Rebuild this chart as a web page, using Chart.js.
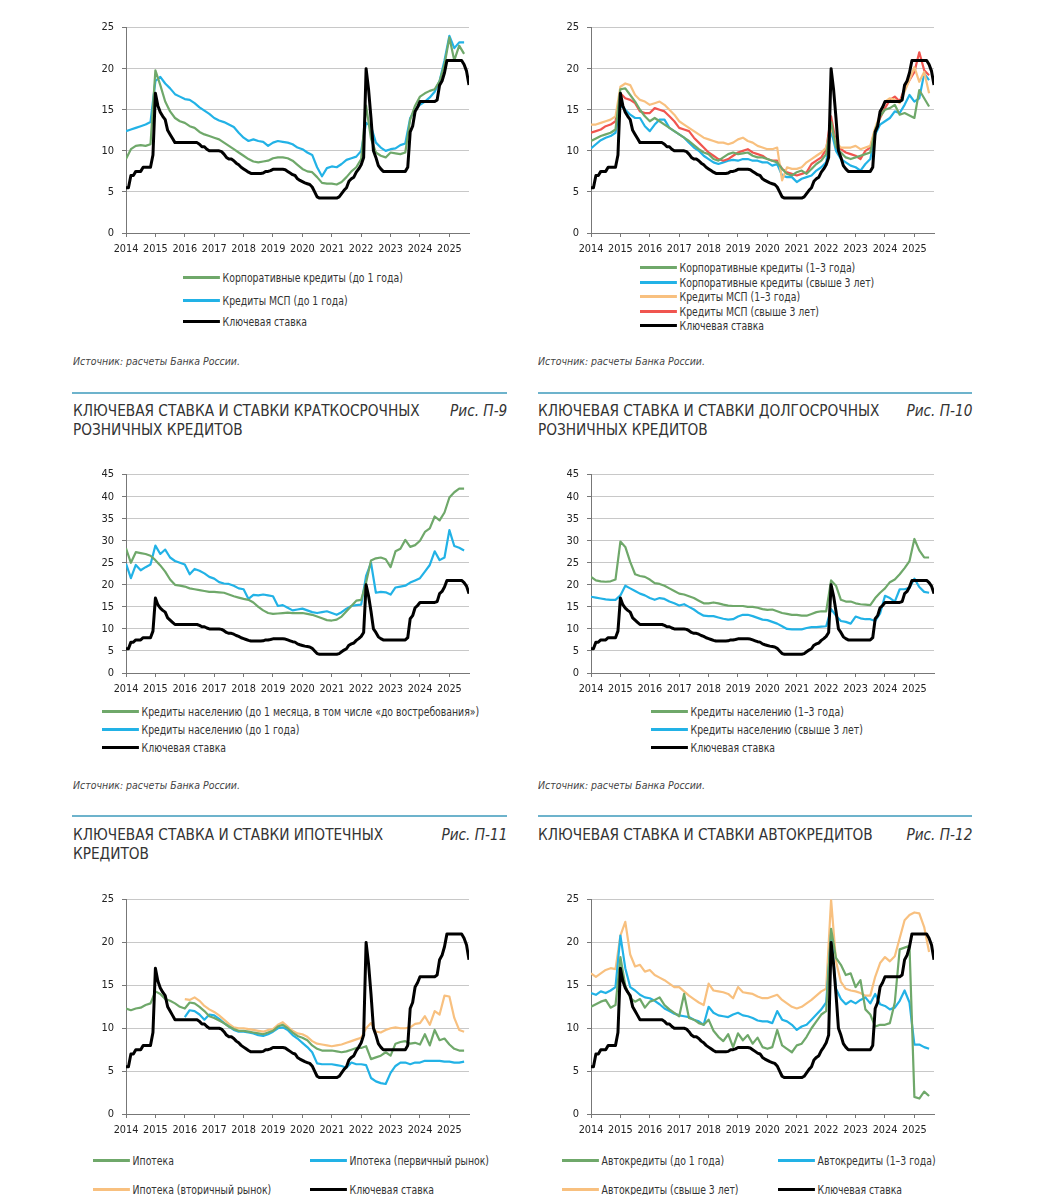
<!DOCTYPE html>
<html lang="ru">
<head>
<meta charset="utf-8">
<script src="https://cdn.jsdelivr.net/npm/chart.js@4.4.1/dist/chart.umd.min.js"></script>
<style>
body { margin: 0; background: #fff; }
#page { position: relative; width: 1060px; height: 1195px; overflow: hidden;
  font-family: 'DejaVu Sans Condensed', Roboto, sans-serif; color: #333; }
.t { position: absolute; white-space: nowrap; }
.title { font-size: 16px; line-height: 18.5px; color: #333; transform: scaleX(0.95); transform-origin: left top; }
.fig { font-size: 16px; line-height: 18.5px; font-style: italic; color: #333; transform: scaleX(0.95); transform-origin: right top; }
.src { font-size: 11px; line-height: 14px; font-style: italic; color: #444; transform: scaleX(0.95); transform-origin: left top; }
.rule { position: absolute; height: 1.5px; background: #6db3cc; }
.lg { position: absolute; font-size: 11.5px; line-height: 14px; white-space: nowrap; color: #333; transform: scaleX(0.9); transform-origin: left center; }
.lg i { display: inline-block; width: 41px; height: 3px; vertical-align: middle; margin-right: 3px; position: relative; top: -1px; }
.cv { position: absolute; }
</style>
</head>
<body>
<div id="page">
  <div class="cv" id="c1"></div>
  <div class="cv" id="c2"></div>
  <div class="cv" id="c3"></div>
  <div class="cv" id="c4"></div>
  <div class="cv" id="c5"></div>
  <div class="cv" id="c6"></div>

  <div class="lg" style="left:183px;top:271px"><i style="background:#6fa86a"></i>Корпоративные кредиты (до 1 года)</div>
  <div class="lg" style="left:183px;top:294px"><i style="background:#22b2e6"></i>Кредиты МСП (до 1 года)</div>
  <div class="lg" style="left:183px;top:315px"><i style="background:#000"></i>Ключевая ставка</div>

  <div class="lg" style="left:640px;top:261px"><i style="background:#6fa86a"></i>Корпоративные кредиты (1–3 года)</div>
  <div class="lg" style="left:640px;top:276px"><i style="background:#22b2e6"></i>Корпоративные кредиты (свыше 3 лет)</div>
  <div class="lg" style="left:640px;top:290px"><i style="background:#f8c07f"></i>Кредиты МСП (1–3 года)</div>
  <div class="lg" style="left:640px;top:305px"><i style="background:#f0554f"></i>Кредиты МСП (свыше 3 лет)</div>
  <div class="lg" style="left:640px;top:319px"><i style="background:#000"></i>Ключевая ставка</div>

  <div class="t src" style="left:73px;top:355px">Источник: расчеты Банка России.</div>
  <div class="t src" style="left:538px;top:355px">Источник: расчеты Банка России.</div>

  <div class="rule" style="left:72px;top:392px;width:435px"></div>
  <div class="rule" style="left:538px;top:392px;width:434px"></div>
  <div class="t title" style="left:73px;top:402px">КЛЮЧЕВАЯ СТАВКА И СТАВКИ КРАТКОСРОЧНЫХ<br>РОЗНИЧНЫХ КРЕДИТОВ</div>
  <div class="t fig" style="right:553px;top:402px">Рис. П-9</div>
  <div class="t title" style="left:538px;top:402px">КЛЮЧЕВАЯ СТАВКА И СТАВКИ ДОЛГОСРОЧНЫХ<br>РОЗНИЧНЫХ КРЕДИТОВ</div>
  <div class="t fig" style="right:88px;top:402px">Рис. П-10</div>

  <div class="lg" style="left:102px;top:705px"><i style="background:#6fa86a"></i>Кредиты населению (до 1 месяца, в том числе «до востребования»)</div>
  <div class="lg" style="left:102px;top:723px"><i style="background:#22b2e6"></i>Кредиты населению (до 1 года)</div>
  <div class="lg" style="left:102px;top:741px"><i style="background:#000"></i>Ключевая ставка</div>

  <div class="lg" style="left:651px;top:705px"><i style="background:#6fa86a"></i>Кредиты населению (1–3 года)</div>
  <div class="lg" style="left:651px;top:723px"><i style="background:#22b2e6"></i>Кредиты населению (свыше 3 лет)</div>
  <div class="lg" style="left:651px;top:741px"><i style="background:#000"></i>Ключевая ставка</div>

  <div class="t src" style="left:73px;top:779px">Источник: расчеты Банка России.</div>
  <div class="t src" style="left:538px;top:779px">Источник: расчеты Банка России.</div>

  <div class="rule" style="left:72px;top:815px;width:435px"></div>
  <div class="rule" style="left:538px;top:815px;width:434px"></div>
  <div class="t title" style="left:73px;top:826px">КЛЮЧЕВАЯ СТАВКА И СТАВКИ ИПОТЕЧНЫХ<br>КРЕДИТОВ</div>
  <div class="t fig" style="right:553px;top:826px">Рис. П-11</div>
  <div class="t title" style="left:538px;top:826px">КЛЮЧЕВАЯ СТАВКА И СТАВКИ АВТОКРЕДИТОВ</div>
  <div class="t fig" style="right:88px;top:826px">Рис. П-12</div>

  <div class="lg" style="left:93px;top:1154px"><i style="background:#6fa86a"></i>Ипотека</div>
  <div class="lg" style="left:310px;top:1154px"><i style="background:#22b2e6"></i>Ипотека (первичный рынок)</div>
  <div class="lg" style="left:93px;top:1183px"><i style="background:#f8c07f"></i>Ипотека (вторичный рынок)</div>
  <div class="lg" style="left:310px;top:1183px"><i style="background:#000"></i>Ключевая ставка</div>

  <div class="lg" style="left:562px;top:1154px"><i style="background:#6fa86a"></i>Автокредиты (до 1 года)</div>
  <div class="lg" style="left:778px;top:1154px"><i style="background:#22b2e6"></i>Автокредиты (1–3 года)</div>
  <div class="lg" style="left:562px;top:1183px"><i style="background:#f8c07f"></i>Автокредиты (свыше 3 лет)</div>
  <div class="lg" style="left:778px;top:1183px"><i style="background:#000"></i>Ключевая ставка</div>
</div>
<script>
// key rate, monthly from Jan 2014
const keyRate = [
  5.5, 5.5, 7.0, 7.0, 7.5, 7.5, 7.5, 8.0, 8.0, 8.0, 8.0, 9.5,
  17, 15.5, 14.7, 14.2, 13.8, 12.5, 12.0, 11.5, 11.0, 11, 11, 11,
  11, 11, 11, 11, 11, 11, 10.8, 10.5, 10.5, 10.2, 10, 10,
  10, 10, 10, 9.9, 9.6, 9.2, 9.0, 9.0, 8.8, 8.5, 8.3, 8.0,
  7.8, 7.6, 7.4, 7.25, 7.25, 7.25, 7.25, 7.25, 7.3, 7.5, 7.5, 7.6,
  7.75, 7.75, 7.75, 7.75, 7.75, 7.7, 7.5, 7.3, 7.1, 7.0, 6.6, 6.4,
  6.25, 6.1, 6.0, 5.9, 5.6, 5.0, 4.4, 4.25, 4.25, 4.25, 4.25, 4.25,
  4.25, 4.25, 4.25, 4.4, 4.8, 5.2, 5.5, 6.3, 6.6, 6.8, 7.4, 7.8,
  8.3, 9.2, 20, 17.5, 14, 10, 9.2, 8.2, 7.8, 7.5, 7.5, 7.5,
  7.5, 7.5, 7.5, 7.5, 7.5, 7.5, 7.5, 8.0, 12.3, 13.0, 14.8, 15.3,
  16, 16, 16, 16, 16, 16, 16, 16.2, 18, 18.5, 19.5, 21,
  21, 21, 21, 21, 21, 21, 20.5, 19.7, 18
];

// other series, every two months from Jan 2014
const corpShort = [9.0,10.2,10.6,10.7,10.6,10.8, 19.8,18.0,16.0,14.8,14.0,13.6, 13.4,13.0,12.8,12.3,12.0,11.8, 11.6,11.4,11.0,10.6,10.2,9.8, 9.4,9.0,8.7,8.6,8.7,8.8, 9.1,9.2,9.2,9.1,8.8,8.3, 7.8,7.5,7.4,6.8,6.1,6.0, 6.0,5.9,6.2,6.8,7.5,8.0, 9.0,15.5,11.5,9.8,9.4,9.2, 9.8,9.7,9.6,9.8,13.8,15.5, 16.6,17.0,17.3,17.5,18.5,20.5, 23.8,21.0,22.8,21.8];
const smeShort = [12.4,12.6,12.8,13.0,13.2,13.5, 18.5,19.0,18.2,17.6,16.9,16.6, 16.3,16.2,15.8,15.3,14.9,14.5, 14.0,13.7,13.5,13.2,12.9,12.2, 11.6,11.2,11.4,11.2,11.1,10.6, 11.0,11.2,11.1,11.0,10.8,10.4, 10.2,9.8,9.5,8.0,6.9,7.9, 8.1,8.0,8.4,8.9,9.1,9.3, 10.0,13.4,13.0,11.0,10.4,10.0, 10.2,10.3,10.7,10.9,14.0,15.0, 15.6,16.0,16.5,17.2,18.5,21.0, 24.0,22.5,23.2,23.2];

const corpMid = [11.2,11.5,11.8,12.0,12.2,12.6, 17.5,17.6,16.8,16.0,15.0,14.2, 13.6,14.0,13.6,13.2,12.8,12.4, 12.0,11.6,11.2,10.7,10.2,9.8, 9.6,9.0,8.8,9.2,9.6,9.8, 9.6,9.7,9.8,9.4,9.2,9.2, 9.0,8.8,8.6,7.8,7.2,7.0, 7.4,7.6,7.2,7.8,8.4,8.8, 9.6,13.5,10.5,9.8,9.2,9.0, 9.2,9.4,9.6,9.8,12.5,14.2, 15.0,15.2,15.6,14.4,14.6,14.3, 14.0,17.4,16.4,15.4];
const corpLong = [10.3,10.8,11.3,11.6,11.8,12.2, 15.6,15.0,14.4,14.0,14.0,13.0, 12.4,13.2,13.8,13.8,12.8,12.4, 12.0,11.6,11.0,10.4,10.0,9.4, 9.0,8.6,8.4,8.6,8.8,8.9, 8.8,9.0,9.0,8.8,8.8,8.6, 8.6,8.2,8.4,7.0,6.8,6.8, 6.2,6.6,6.8,7.0,7.6,8.0, 8.6,12.5,10.0,9.0,8.6,8.2, 8.0,7.6,8.4,9.0,12.0,13.2, 13.6,14.0,14.8,14.6,15.6,16.8, 16.0,16.4,19.4,18.6];
const smeMid = [13.2,13.2,13.4,13.6,13.8,14.2, 17.8,18.2,18.0,16.8,16.2,16.0, 15.6,15.8,16.0,15.6,15.0,14.4, 13.6,13.2,12.8,12.4,12.0,11.6, 11.4,11.2,11.0,11.0,10.8,11.0, 11.4,11.6,11.2,11.0,10.6,10.4, 10.2,10.2,10.4,6.4,8.0,7.8, 7.8,8.0,8.6,9.0,9.4,9.8, 10.4,12.8,11.0,10.4,10.4,10.4, 10.6,10.2,10.4,10.6,12.8,14.4, 16.0,16.4,16.2,15.8,17.2,18.6, 20.2,18.4,19.6,17.0];
const smeLong = [12.2,12.4,12.6,13.0,13.2,13.6, 17.0,16.4,16.2,15.8,14.8,14.6, 14.6,15.2,15.0,14.8,14.2,13.6, 12.8,12.6,12.4,11.6,11.0,10.4, 9.8,9.4,9.0,8.8,9.0,9.4, 9.8,10.0,10.2,9.8,9.6,9.4, 9.0,8.8,8.8,7.8,7.4,7.2, 7.0,7.2,7.4,8.4,8.8,9.2, 10.2,14.2,11.0,10.2,9.8,9.6, 9.4,9.0,10.0,10.4,12.6,14.0, 15.2,16.2,16.6,16.0,17.6,18.6, 19.6,22.0,19.8,19.2];

const retailMonth = [28.3,25.0,27.4,27.2,27.0,26.6, 25.6,24.4,23.0,21.2,20.0,19.8, 19.6,19.2,19.0,18.8,18.6,18.4, 18.4,18.3,18.2,17.8,17.4,17.1, 16.8,16.6,16.0,15.0,14.2,13.6, 13.4,13.5,13.6,13.7,13.6,13.6, 13.6,13.4,13.2,12.8,12.4,12.0, 11.9,12.1,12.8,14.0,15.2,16.4, 16.6,20.5,25.5,26.0,26.2,25.8, 24.0,27.6,28.2,30.2,28.6,29.0, 30.0,32.0,32.8,35.5,34.6,36.4, 39.8,41.0,41.8,41.8];
const retailYear = [24.8,21.5,24.5,23.3,24.0,24.6, 28.9,27.0,28.0,26.2,25.4,25.0, 24.6,22.4,23.6,23.2,22.6,21.8, 21.4,20.6,20.3,20.2,19.8,19.2, 19.0,16.8,17.7,17.6,17.8,17.6, 17.4,15.2,15.4,14.8,14.2,14.4, 14.6,14.2,13.8,13.6,13.8,14.0, 13.6,13.2,13.8,14.6,15.2,15.4, 15.5,22.0,25.0,18.2,18.4,18.3, 17.8,19.4,19.6,19.8,20.5,21.0, 21.5,23.0,24.5,27.6,25.6,26.2, 32.4,28.8,28.4,27.8];

const retailMid = [21.8,21.0,20.8,20.7,20.8,21.2, 29.8,28.6,25.2,22.4,22.0,21.8, 21.2,20.4,20.2,19.8,19.2,18.6, 18.0,17.8,17.4,17.0,16.4,15.8, 15.8,16.0,15.8,15.5,15.3,15.2, 15.2,15.2,15.0,15.0,14.8,14.5, 14.3,14.4,14.0,13.6,13.4,13.2, 13.2,13.0,13.0,13.4,13.8,14.0, 14.0,21.0,19.8,16.6,16.2,16.2, 15.8,15.6,15.5,15.4,17.0,18.2, 19.2,20.6,21.2,22.4,23.8,25.4, 30.4,27.8,26.2,26.2];
const retailLong = [17.3,17.1,16.9,16.7,16.6,16.6, 17.6,19.8,19.2,18.6,18.0,17.6, 17.0,16.6,17.0,16.8,16.2,15.8, 15.3,15.6,15.0,14.4,13.6,13.0, 12.9,12.9,12.6,12.3,12.1,12.2, 12.8,13.2,13.2,12.9,12.5,12.1, 12.0,11.6,11.2,10.6,10.0,9.9, 9.9,9.9,10.2,10.4,10.4,10.5, 10.6,14.5,13.0,11.8,11.6,11.2, 12.8,12.4,12.2,12.2,11.8,13.5, 17.5,17.0,16.2,19.0,19.0,19.3, 21.4,19.5,18.4,18.2];

const mortgage = [12.3,12.1,12.3,12.4,12.7,12.9, 14.3,14.0,13.4,13.2,12.9,12.5, 12.3,13.0,12.9,12.5,12.0,11.4, 11.2,10.9,10.6,10.2,9.9,9.7, 9.7,9.6,9.5,9.4,9.3,9.5, 9.7,10.2,10.4,10.0,9.5,9.1, 8.9,8.6,8.0,7.6,7.4,7.4, 7.4,7.3,7.2,7.3,7.5,7.7, 7.7,7.9,6.4,6.6,6.8,7.2, 6.8,8.2,8.4,8.5,8.2,8.3, 8.1,9.3,8.0,9.8,8.6,8.8, 8.1,7.6,7.4,7.4];
const mortgageNew = [null,null,null,null,null,null, null,null,null,null,null,null, 11.3,12.1,12.0,11.6,11.0,11.6, 11.5,11.1,10.6,10.2,9.8,9.6, 9.6,9.5,9.4,9.2,9.1,9.3, 9.6,10.0,10.1,9.8,9.2,8.8, 8.3,7.8,7.2,5.9,5.8,5.8, 5.8,5.7,5.6,5.4,6.0,5.8, 5.8,5.7,4.2,3.8,3.6,3.5, 4.8,5.6,6.0,6.0,5.8,6.0, 6.0,6.2,6.2,6.2,6.2,6.1, 6.1,6.0,6.0,6.1];
const mortgageOld = [null,null,null,null,null,null, null,null,null,null,null,null, 13.4,13.3,13.6,13.2,12.6,12.2, 11.9,11.5,11.0,10.5,10.1,10.0, 10.0,9.9,9.8,9.7,9.6,9.8, 9.9,10.4,10.7,10.2,9.7,9.4, 9.3,9.0,8.5,8.2,8.1,8.0, 7.9,8.0,8.1,8.3,8.5,8.7, 8.9,10.0,10.6,9.6,9.5,9.8, 10.0,10.1,10.0,10.0,10.1,10.5, 10.6,11.4,10.4,12.0,11.6,13.8, 13.7,11.2,9.8,9.6];

const autoShort = [12.5,12.8,13.1,13.3,12.4,12.7, 18.3,15.0,13.5,13.1,13.4,12.4, 13.1,13.3,13.6,12.7,12.2,11.8, 11.4,14.0,11.2,11.0,10.6,10.4, 11.0,9.7,9.0,8.5,9.3,7.8, 9.4,8.6,9.2,8.2,8.9,7.8, 7.6,7.8,9.8,8.0,7.6,7.2, 8.0,8.2,9.0,10.0,10.8,11.6, 12.0,21.6,18.2,17.4,16.2,16.4, 14.8,15.6,12.2,11.6,10.2,10.4, 10.4,10.6,13.0,19.2,19.4,19.6, 2.0,1.8,2.6,2.1];
const autoMid = [14.1,13.9,14.3,14.1,14.4,14.8, 20.8,17.0,14.8,14.4,13.9,13.6, 13.5,13.2,12.8,12.3,12.0,11.7, 11.5,11.4,11.3,11.0,10.8,10.4, 12.5,11.8,11.5,11.4,11.3,11.6, 11.8,11.5,11.4,11.2,10.9,10.8, 10.8,10.6,12.0,11.0,10.8,10.4, 9.8,10.2,10.4,11.0,11.6,12.2, 13.0,21.0,14.6,13.4,12.8,13.2, 12.9,13.3,13.6,12.9,14.0,12.8, 12.6,12.2,12.4,13.2,14.4,13.0, 8.1,8.1,7.8,7.6];
const autoLong = [16.4,16.0,16.4,16.8,17.0,16.9, 20.8,22.4,18.6,17.2,17.4,16.6, 16.8,16.2,15.9,15.6,15.2,14.8, 14.8,14.3,13.8,13.4,13.0,12.7, 15.2,14.4,14.3,14.2,14.0,13.5, 14.8,14.2,14.1,14.0,13.7,13.5, 13.5,13.7,13.9,13.3,12.9,12.5, 12.3,12.5,12.9,13.3,13.8,14.3, 14.6,25.0,17.8,15.4,14.6,14.4, 14.3,14.1,13.8,13.8,16.0,17.6, 18.3,17.8,18.4,20.5,22.6,23.2, 23.5,23.4,21.8,18.9];

const yearTicks = [2014, 2015, 2016, 2017, 2018, 2019, 2020, 2021, 2022, 2023, 2024, 2025];

const GREEN = '#6fa86a', BLUE = '#22b2e6', ORANGE = '#f8c07f', RED = '#f0554f';
const FONT = "'DejaVu Sans Condensed', Roboto, sans-serif";

const monthX = keyRate.map((_, i) => 2014 + i / 12);
const biX = corpShort.map((_, i) => 2014 + i / 6);
const pts = (xs, ys) => ys.map((y, i) => ({ x: xs[i], y }));

function draw(id, area, yMax, series) {
  const [L, R, T, B] = area;
  const YW = 56, XH = 28, PT = 12, PR = 4;
  const w = Math.round(R - L + YW + PR), h = Math.round(B - T + PT + XH);
  const box = document.getElementById(id);
  box.style.left = (L - YW) + 'px';
  box.style.top = (T - PT) + 'px';
  const cv = document.createElement('canvas');
  cv.width = w; cv.height = h;
  box.appendChild(cv);

  const datasets = series.map(s => ({
    data: pts(biX, s[0]), borderColor: s[1], borderWidth: 2.2, order: 1
  }));
  datasets.push({ data: pts(monthX, keyRate), borderColor: '#000', borderWidth: 3, order: 0 });
  datasets.forEach(d => { d.pointRadius = 0; d.tension = 0; d.fill = false; d.borderJoinStyle = 'round'; });

  new Chart(cv, {
    type: 'line',
    data: { datasets },
    options: {
      responsive: false,
      animation: false,
      layout: { autoPadding: false, padding: { top: PT, right: PR, left: 0, bottom: 0 } },
      plugins: { legend: { display: false }, tooltip: { enabled: false } },
      scales: {
        x: {
          type: 'linear', min: 2014, max: 2025.667,
          afterFit: s => { s.height = XH; },
          afterBuildTicks: s => { s.ticks = yearTicks.map(v => ({ value: v })); },
          ticks: { callback: v => String(v), autoSkip: false, maxRotation: 0, padding: 6,
                   color: '#222', font: { family: FONT, size: 10.8 } },
          grid: { drawOnChartArea: false, drawTicks: true, tickLength: 4, color: '#777' },
          border: { color: '#777', width: 1 }
        },
        y: {
          min: 0, max: yMax,
          afterFit: s => { s.width = YW; },
          ticks: { stepSize: 5, padding: 8, color: '#222', font: { family: FONT, size: 11 } },
          grid: { color: '#c8c8c8', tickColor: '#777', tickLength: 4 },
          border: { color: '#777', width: 1 }
        }
      }
    }
  });
}

draw('c1', [125.7, 469, 25, 233.3], 25, [[corpShort, GREEN], [smeShort, BLUE]]);
draw('c2', [590.7, 934, 25, 233.3], 25, [[corpMid, GREEN], [smeMid, ORANGE], [smeLong, RED], [corpLong, BLUE]]);
draw('c3', [125.7, 469, 471.7, 672.2], 45, [[retailMonth, GREEN], [retailYear, BLUE]]);
draw('c4', [590.7, 934, 471.7, 672.2], 45, [[retailMid, GREEN], [retailLong, BLUE]]);
draw('c5', [125.7, 469, 896.8, 1114.2], 25, [[mortgage, GREEN], [mortgageNew, BLUE], [mortgageOld, ORANGE]]);
draw('c6', [590.7, 934, 896.8, 1114.2], 25, [[autoShort, GREEN], [autoMid, BLUE], [autoLong, ORANGE]]);
</script>
</body>
</html>
